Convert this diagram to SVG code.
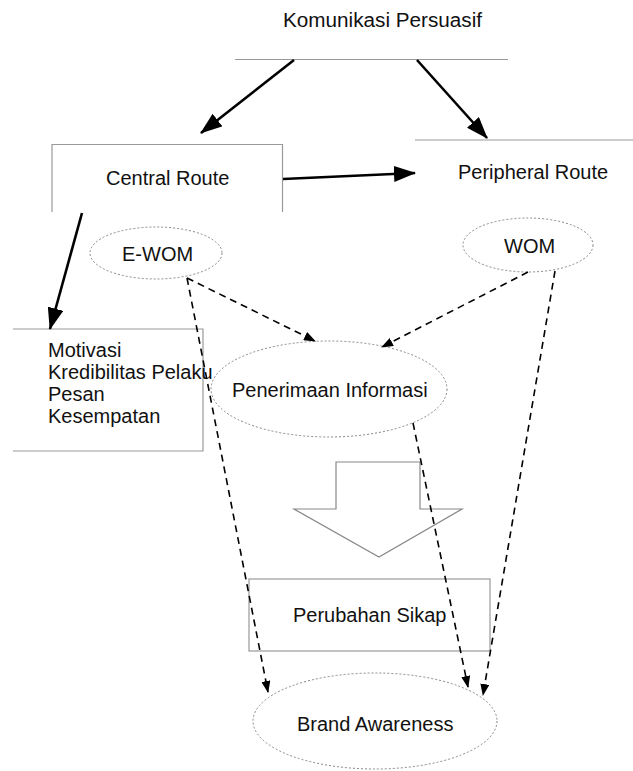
<svg xmlns="http://www.w3.org/2000/svg" width="633" height="771" viewBox="0 0 633 771">
<style>
text{font-family:"Liberation Sans",Arial,sans-serif;font-size:20px;fill:#111}
.edge{fill:none;stroke:#999;stroke-width:1.2}
.ell{fill:none;stroke:#888;stroke-width:1;stroke-dasharray:2 2}
.solid{fill:none;stroke:#000;stroke-width:2.6;marker-end:url(#ah)}
.dash{fill:none;stroke:#000;stroke-width:1.6;stroke-dasharray:7 5;marker-end:url(#dh)}
</style>
<defs>
<marker id="ah" viewBox="0 0 22 16" refX="21" refY="8" markerWidth="22" markerHeight="16" markerUnits="userSpaceOnUse" orient="auto"><path d="M0,0 L22,8 L0,16 Z" fill="#000"/></marker>
<marker id="dh" viewBox="0 0 12 9" refX="11" refY="4.5" markerWidth="12" markerHeight="9" markerUnits="userSpaceOnUse" orient="auto"><path d="M0,0 L12,4.5 L0,9 Z" fill="#000"/></marker>
</defs>
<rect width="633" height="771" fill="#fff"/>
<g id="komunikasi">
<text x="283" y="27" textLength="199" lengthAdjust="spacingAndGlyphs">Komunikasi Persuasif</text>
<line class="edge" x1="235" y1="59.5" x2="508" y2="59.5"/>
</g>
<g id="central">
<path class="edge" d="M52,212 V144.5 H282.5 V212"/>
<text x="106" y="185">Central Route</text>
</g>
<g id="peripheral">
<line class="edge" x1="415" y1="140" x2="633" y2="140"/>
<text x="458" y="179">Peripheral Route</text>
</g>
<g id="ewom">
<ellipse class="ell" cx="156" cy="253" rx="66" ry="26"/>
<text x="122" y="261">E-WOM</text>
</g>
<g id="wom">
<ellipse class="ell" cx="528" cy="245" rx="65" ry="27"/>
<text x="504" y="253">WOM</text>
</g>
<g id="motivasi">
<path class="edge" d="M13,329 H203 V451 H13"/>
<text x="48" y="357">Motivasi</text>
<text x="48" y="379">Kredibilitas Pelaku</text>
<text x="48" y="401">Pesan</text>
<text x="48" y="423">Kesempatan</text>
</g>
<g id="penerimaan">
<ellipse class="ell" cx="329" cy="389" rx="118" ry="48"/>
<text x="232" y="397">Penerimaan Informasi</text>
</g>
<g id="blockarrow">
<polygon points="336,462 420,462 420,509 462,509 379,557 294,509 336,509" fill="#fff" stroke="#888" stroke-width="1.2"/>
</g>
<g id="perubahan">
<rect class="edge" x="249" y="579" width="241" height="72"/>
<text x="293" y="622">Perubahan Sikap</text>
</g>
<g id="brand">
<ellipse class="ell" cx="375" cy="721" rx="122" ry="48"/>
<text x="297" y="731">Brand Awareness</text>
</g>
<g id="connectors">
<line class="solid" x1="294" y1="60" x2="201" y2="133"/>
<line class="solid" x1="417" y1="60" x2="487" y2="138"/>
<line class="solid" x1="283" y1="179" x2="415" y2="173"/>
<line class="solid" x1="82" y1="213" x2="50" y2="329"/>
<line class="dash" x1="187" y1="278" x2="315" y2="341"/>
<line class="dash" x1="528" y1="272" x2="382" y2="347"/>
<line class="dash" x1="187" y1="278" x2="268" y2="692"/>
<line class="dash" x1="413" y1="423" x2="468" y2="687"/>
<line class="dash" x1="555" y1="271" x2="483" y2="695"/>
</g>
</svg>
